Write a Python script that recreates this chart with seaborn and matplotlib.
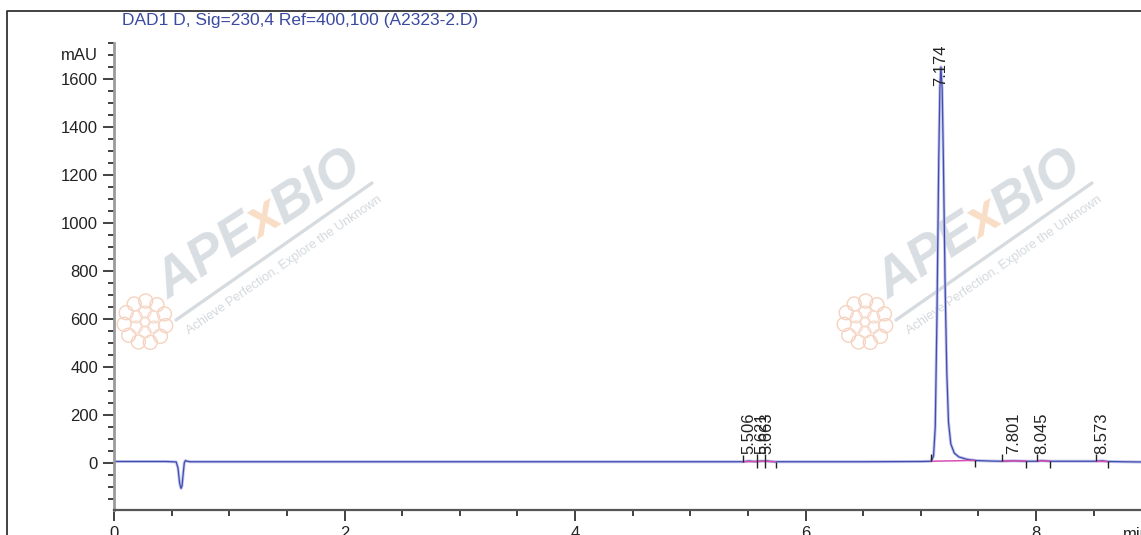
import numpy as np
import pandas as pd
import matplotlib.pyplot as plt
import matplotlib.patches as mpatches
from matplotlib.lines import Line2D
from matplotlib.ticker import MultipleLocator
import seaborn as sns

# trace (min, mAU)
time = [0.0, 0.45, 0.50, 0.54, 0.555, 0.57, 0.582, 0.59, 0.60, 0.61, 0.62, 0.635, 0.66,
        1.5, 3.0, 4.5, 5.40, 5.455, 5.506, 5.55, 5.577, 5.621, 5.646, 5.663, 5.70, 5.74,
        6.5, 7.0, 7.09, 7.11, 7.125, 7.14, 7.155, 7.165, 7.174, 7.185, 7.195, 7.21, 7.225,
        7.24, 7.26, 7.29, 7.33, 7.40, 7.48, 7.60, 7.70, 7.801, 7.91, 8.01, 8.045, 8.12,
        8.52, 8.573, 8.62, 8.75, 8.91]
signal = [7, 7, 6, 5, -20, -85, -105, -95, -45, 2, 11, 8, 6,
          6, 6, 6, 6, 6, 9, 7, 7, 9, 8, 9, 7, 6,
          6, 7, 8, 30, 150, 620, 1250, 1560, 1650, 1560, 1280, 760, 380,
          170, 80, 42, 26, 16, 11, 9, 8, 10, 8, 8, 11, 8,
          8, 10, 7, 6, 5]

# retention times of the labelled peaks
peak_rt = [5.506, 5.621, 5.663, 7.174, 7.801, 8.045, 8.573]
# integration start / end of each peak
peak_start = [5.455, 5.577, 5.646, 7.09, 7.70, 8.01, 8.52]
peak_end = [5.577, 5.646, 5.74, 7.47, 7.91, 8.12, 8.62]

y_major = [0, 200, 400, 600, 800, 1000, 1200, 1400, 1600]

title = "DAD1 D, Sig=230,4 Ref=400,100 (A2323-2.D)"

df = pd.DataFrame({"min": time, "mAU": signal})

sns.set_theme(style="ticks")
plt.rcParams['font.family'] = ['Liberation Sans', 'DejaVu Sans']

W, H = 1141, 535
fig = plt.figure(figsize=(W / 100, H / 100), dpi=100)
ax = fig.add_axes([114 / W, 25 / H, (W - 114) / W, (510 - 43) / H])
ax.set_facecolor('none')

# watermark (pixel coords of the image, y downwards)
def px(x, y):
    return x / 100, (H - y) / 100

renderer = fig.canvas.get_renderer()

def text_width(s, **kw):
    t = fig.text(0, 0, s, **kw)
    w = t.get_window_extent(renderer).width
    t.remove()
    return w

logo_kw = dict(fontsize=39, fontweight='bold', style='italic')
ang = 33
for dx in [0, 720]:
    x0, y0 = 168 + dx, 300
    pos = 0
    for part, col in [("APE", '#d9dee3'), ("x", '#f8dec6'), ("BIO", '#d9dee3')]:
        xx = x0 + pos * np.cos(np.radians(ang))
        yy = y0 - pos * np.sin(np.radians(ang))
        fig.text(*px(xx, yy), part, transform=fig.dpi_scale_trans, color=col,
                 rotation=ang, rotation_mode='anchor', ha='left', va='baseline',
                 zorder=-1, **logo_kw)
        pos += text_width(part, **logo_kw) - 2
    fig.add_artist(Line2D([px(176 + dx, 0)[0], px(372 + dx, 0)[0]],
                          [px(0, 320)[1], px(0, 183)[1]], transform=fig.dpi_scale_trans,
                          color='#d6dbe0', lw=2.4, zorder=-1))
    fig.text(*px(184 + dx, 327), "Achieve Perfection, Explore the Unknown",
             transform=fig.dpi_scale_trans, color='#d3d9de', fontsize=9.2,
             rotation=34.7, rotation_mode='anchor', ha='left', va='top', zorder=-1)
    # flower mark
    cx, cy = 145 + dx, 322
    for k in range(11):
        a = np.radians(k * 360 / 11 + 10)
        fig.add_artist(mpatches.Circle(px(cx + 21 * np.cos(a), cy + 21 * np.sin(a)), 0.07,
                                       transform=fig.dpi_scale_trans, fill=False,
                                       ec='#f5d3c0', lw=1, zorder=-1))
    for k in range(6):
        a = np.radians(k * 60 + 30)
        fig.add_artist(mpatches.Circle(px(cx + 10 * np.cos(a), cy + 10 * np.sin(a)), 0.06,
                                       transform=fig.dpi_scale_trans, fill=False,
                                       ec='#f6dacb', lw=0.9, zorder=-1))
    fig.add_artist(mpatches.Circle(px(cx, cy), 0.05, transform=fig.dpi_scale_trans,
                                   fill=False, ec='#f6dacb', lw=0.9, zorder=-1))

# trace
sns.lineplot(data=df, x="min", y="mAU", ax=ax, color='#c3c6ea', lw=2.2, estimator=None)
sns.lineplot(data=df, x="min", y="mAU", ax=ax, color='#3f4cb0', lw=0.9, estimator=None)

# integration baselines and event ticks
b_start = np.interp(peak_start, time, signal)
b_end = np.interp(peak_end, time, signal)
for s, e, ys, ye in zip(peak_start, peak_end, b_start, b_end):
    ax.plot([s, e], [ys, ye], color='#d84fb0', lw=1.1, zorder=3)
ax.vlines(peak_start, b_start, b_start + 30, color='#222222', lw=1, zorder=4)
ax.vlines(peak_end, b_end - 28, b_end, color='#222222', lw=1, zorder=4)

ax.set_xlim(0, 8.91)
ax.set_ylim(-195, 1750)

# retention time labels
peak_h = np.interp(peak_rt, time, signal)
for rt, h in zip(peak_rt, peak_h):
    if h + 28 + 185 > 1750:
        ax.text(rt, 1745, f"{rt:.3f}", rotation=90, ha='center', va='top',
                fontsize=12, color='#222222', zorder=5)
    else:
        ax.text(rt, h + 28, f"{rt:.3f}", rotation=90, ha='center', va='bottom',
                fontsize=12, color='#222222', zorder=5)

ax.set_xlabel("")
ax.set_ylabel("")
ax.xaxis.set_major_locator(MultipleLocator(2))
ax.xaxis.set_minor_locator(MultipleLocator(0.5))
ax.set_yticks(y_major)
ax.yaxis.set_minor_locator(MultipleLocator(50))
ax.tick_params(which='major', length=8, width=1.3, color='#333333', pad=3.6,
               labelsize=12, labelcolor='#222222')
ax.tick_params(which='minor', length=4.3, width=1.3, color='#333333')

sns.despine(ax=ax)
ax.spines['left'].set_color('#9a9a9a')
ax.spines['left'].set_linewidth(2)
ax.spines['bottom'].set_color('#555555')
ax.spines['bottom'].set_linewidth(1.6)

ax.annotate("mAU", xy=(0, 1700), xycoords=('axes fraction', 'data'), xytext=(-11.5, 0),
            textcoords='offset points', ha='right', va='center', fontsize=12, color='#222222')
ax.annotate("min", xy=(1, 0), xycoords='axes fraction', xytext=(-13, -12.5),
            textcoords='offset points', ha='left', va='top', fontsize=12, color='#222222')

fig.text(122 / W, 1 - 21 / H, title, ha='left', va='center', fontsize=12.5, color='#3a4aa2')

# outer frame
fig.add_artist(Line2D([7 / W, 7 / W, 1], [0, 1 - 10.7 / H, 1 - 10.7 / H],
                      transform=fig.transFigure, color='#333333', lw=1.3))

fig.savefig("out.png", dpi=100)
